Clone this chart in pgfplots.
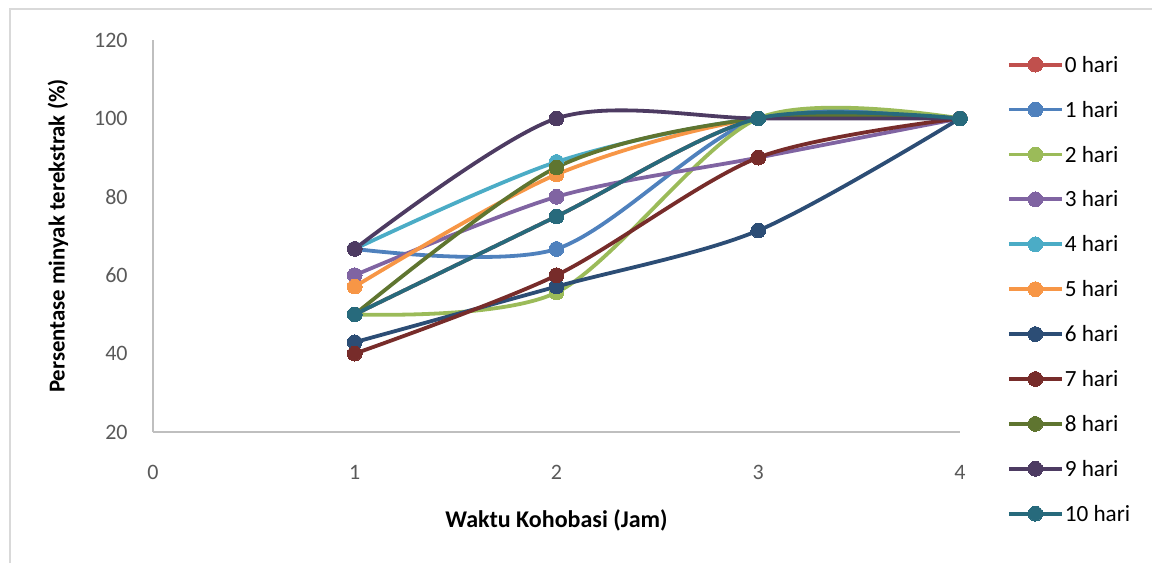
\documentclass[border=0pt]{standalone}
\usepackage{fontspec}
\setmainfont{Carlito}
\usepackage{pgfplots}
\pgfplotsset{compat=1.18}

\definecolor{c0}{HTML}{C0504D}
\definecolor{c1}{HTML}{4F81BD}
\definecolor{c2}{HTML}{9BBB59}
\definecolor{c3}{HTML}{8064A2}
\definecolor{c4}{HTML}{4BACC6}
\definecolor{c5}{HTML}{F79646}
\definecolor{c6}{HTML}{2C4D75}
\definecolor{c7}{HTML}{772C2A}
\definecolor{c8}{HTML}{5F7530}
\definecolor{c9}{HTML}{4D3B62}
\definecolor{c10}{HTML}{276A7C}
\definecolor{axisgray}{HTML}{BFBFBF}
\definecolor{framegray}{HTML}{D9D9D9}
\definecolor{ticktext}{HTML}{595959}

\pgfplotsset{
  ser/.style={color=#1, line width=1.9pt, smooth, tension=0.5,
    mark=*, mark size=3.7pt, mark options={solid, fill=#1, draw=#1, line width=0pt}},
}

\begin{document}
\begin{tikzpicture}
\useasboundingbox (0,0) rectangle (576pt,281.5pt);
% outer chart frame (left and top edges)
\draw[framegray, line width=1pt] (5pt,0pt) -- (5pt,277pt) -- (576pt,277pt);
\begin{axis}[
  at={(76.5pt,65.5pt)}, anchor=south west,
  scale only axis, width=403.5pt, height=196pt,
  xmin=0, xmax=4, ymin=20, ymax=120,
  xtick={0,1,2,3,4}, ytick={20,40,60,80,100,120},
  axis x line*=bottom, axis y line*=left,
  axis line style={draw=axisgray, line width=1pt, -},
  major tick length=0pt,
  clip=false,
  font=\fontsize{11}{13}\selectfont,
  /pgf/number format/assume math mode=true,
  ticklabel style={text=ticktext, font=\fontsize{11}{13}\selectfont},
  yticklabel style={anchor=east, inner sep=0pt, xshift=-12.5pt},
  xticklabel style={anchor=base, inner sep=0pt, yshift=-23.5pt},
  xlabel={\bfseries Waktu Kohobasi (Jam)},
  ylabel={\bfseries Persentase minyak terekstrak (\%)},
  every axis x label/.style={at={(axis description cs:0.5,-0.2245)}, anchor=center, font=\fontsize{12}{14}\selectfont},
  every axis y label/.style={at={(axis description cs:-0.1177,0.5)}, rotate=90, anchor=center, font=\fontsize{11.4}{13}\selectfont},
  legend cell align=left,
  legend style={at={(axis description cs:1.0582,0.959)}, anchor=north west,
    draw=none, fill=none, inner sep=0pt, outer sep=0pt,
    row sep=12.9pt, column sep=0.5pt,
    nodes={inner sep=0pt, text=black},
    font=\fontsize{11.6}{13}\selectfont},
  legend image code/.code={
    \draw[#1, mark=none] (0pt,0.5pt) -- (26.5pt,0.5pt);
    \draw[#1] plot coordinates {(13.25pt,0.5pt)};
  },
]
\addplot[ser=c0]  coordinates {(1,50) (2,75) (3,100) (4,100)};
\addlegendentry{0 hari}
\addplot[ser=c1]  coordinates {(1,66.7) (2,66.7) (3,100) (4,100)};
\addlegendentry{1 hari}
\addplot[ser=c2]  coordinates {(1,50) (2,55.6) (3,100) (4,100)};
\addlegendentry{2 hari}
\addplot[ser=c3]  coordinates {(1,60) (2,80) (3,90) (4,100)};
\addlegendentry{3 hari}
\addplot[ser=c4]  coordinates {(1,66.7) (2,88.9) (3,100) (4,100)};
\addlegendentry{4 hari}
\addplot[ser=c5]  coordinates {(1,57.1) (2,85.7) (3,100) (4,100)};
\addlegendentry{5 hari}
\addplot[ser=c6]  coordinates {(1,42.9) (2,57.1) (3,71.4) (4,100)};
\addlegendentry{6 hari}
\addplot[ser=c7]  coordinates {(1,40) (2,60) (3,90) (4,100)};
\addlegendentry{7 hari}
\addplot[ser=c8]  coordinates {(1,50) (2,87.5) (3,100) (4,100)};
\addlegendentry{8 hari}
\addplot[ser=c9]  coordinates {(1,66.7) (2,100) (3,100) (4,100)};
\addlegendentry{9 hari}
\addplot[ser=c10] coordinates {(1,50) (2,75) (3,100) (4,100)};
\addlegendentry{10 hari}
\end{axis}
\end{tikzpicture}
\end{document}
